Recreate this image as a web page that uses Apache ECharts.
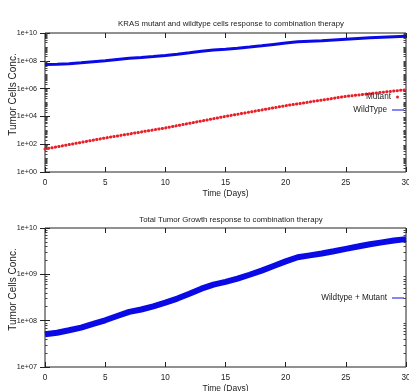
<!DOCTYPE html>
<html><head><meta charset="utf-8">
<script src="https://cdn.jsdelivr.net/npm/echarts@6/dist/echarts.min.js"></script>
<style>html,body{margin:0;padding:0;background:#fff}#c{width:409px;height:391px}</style>
</head><body><div id="c"></div>
<script>
const days = [0,1,2,3,4,5,6,7,8,9,10,11,12,13,14,15,16,17,18,19,20,21,22,23,24,25,26,27,28,29,30];
const wildtypeCells = [5.5e7,5.6e7,6.2e7,7.1e7,8.5e7,1.02e8,1.26e8,1.55e8,1.74e8,2.04e8,2.45e8,3.0e8,3.8e8,4.9e8,6.0e8,6.9e8,8.1e8,9.8e8,1.2e9,1.51e9,1.9e9,2.34e9,2.57e9,2.82e9,3.16e9,3.55e9,3.98e9,4.47e9,4.9e9,5.37e9,5.75e9];
const mutantDays = [0,5,10,15,20,25,28,30];
const mutantCells = [45,280,1480,1.0e4,5.9e4,2.75e5,5.4e5,8.3e5];
const totalCells = [5.1e7,5.5e7,6.2e7,7.1e7,8.5e7,1.02e8,1.26e8,1.55e8,1.74e8,2.04e8,2.45e8,3.0e8,3.8e8,4.9e8,6.0e8,6.9e8,8.1e8,9.8e8,1.2e9,1.51e9,1.9e9,2.34e9,2.57e9,2.82e9,3.16e9,3.55e9,3.98e9,4.47e9,4.9e9,5.37e9,5.75e9];
const xTicks = [0,5,10,15,20,25,30];
const topYTicks = [1,1e2,1e4,1e6,1e8,1e10];
const topYTickLabels = ['1e+00','1e+02','1e+04','1e+06','1e+08','1e+10'];
const botYTicks = [1e7,1e8,1e9,1e10];
const botYTickLabels = ['1e+07','1e+08','1e+09','1e+10'];

function minorTicks(k0, k1) {
  const out = [];
  for (let k = k0; k < k1; k++) {
    for (let m = 2; m <= 9; m++) out.push(m * Math.pow(10, k));
    if (k !== k0) out.push(Math.pow(10, k));
  }
  return out;
}
const topMinor = minorTicks(0, 10).filter(v => topYTicks.indexOf(v) < 0);
const botMinor = minorTicks(7, 10).filter(v => botYTicks.indexOf(v) < 0);

const FONT = '"Liberation Sans", Arial, sans-serif';
const FS = 8.2;
const BLUE = '#0a0ae6';
const RED = '#e8202a';

function labelFor(ticks, labels) {
  return function (v) {
    for (let i = 0; i < ticks.length; i++) {
      if (Math.abs(Math.log10(v) - Math.log10(ticks[i])) < 1e-6) return labels[i];
    }
    return '';
  };
}

function yAxes(gridIndex, min, max, majors, minors, labels, withName) {
  const base = {
    type: 'log', logBase: 10, gridIndex, min, max,
    axisLine: {show: false}, splitLine: {show: false}
  };
  return [
    Object.assign({}, base, {
      position: 'left',
      name: withName ? 'Tumor Cells Conc.' : '',
      nameLocation: 'middle', nameGap: 27, nameRotate: 90, nameMoveOverlap: false,
      nameTextStyle: {fontFamily: FONT, fontSize: 10, color: '#222', padding: [0, 0, 0, 16]},
      axisTick: {show: true, inside: true, length: 5, customValues: majors, lineStyle: {color: '#222'}},
      axisLabel: {show: true, margin: 8, customValues: majors, formatter: labelFor(majors, labels), fontFamily: FONT, fontSize: 7.2, color: '#222'}
    }),
    Object.assign({}, base, {
      position: 'right',
      axisTick: {show: true, inside: true, length: 5, customValues: majors, lineStyle: {color: '#222'}},
      axisLabel: {show: false}
    }),
    Object.assign({}, base, {
      position: 'left',
      axisTick: {show: true, inside: true, length: 2.5, customValues: minors, lineStyle: {color: '#444'}},
      axisLabel: {show: false}
    }),
    Object.assign({}, base, {
      position: 'right',
      axisTick: {show: true, inside: true, length: 2.5, customValues: minors, lineStyle: {color: '#444'}},
      axisLabel: {show: false}
    })
  ];
}

function xAxes(gridIndex) {
  const base = {type: 'value', gridIndex, min: 0, max: 30, interval: 5, axisLine: {show: false}, splitLine: {show: false}};
  return [
    Object.assign({}, base, {
      position: 'bottom',
      name: 'Time (Days)', nameLocation: 'middle', nameGap: 17, nameMoveOverlap: false,
      nameTextStyle: {fontFamily: FONT, fontSize: FS + 0.3, color: '#222'},
      axisTick: {show: true, inside: true, length: 5, lineStyle: {color: '#222'}},
      axisLabel: {show: true, margin: 7, fontFamily: FONT, fontSize: FS, color: '#222', formatter: v => xTicks.indexOf(v) >= 0 ? String(v) : ''}
    }),
    Object.assign({}, base, {
      position: 'top',
      axisTick: {show: true, inside: true, length: 5, lineStyle: {color: '#222'}},
      axisLabel: {show: false}
    })
  ];
}

const chart = echarts.init(document.getElementById('c'), null, {renderer: 'canvas'});
chart.setOption({
  animation: false,
  backgroundColor: '#fff',
  textStyle: {fontFamily: FONT},
  title: [
    {text: 'KRAS mutant and wildtype cells response to combination therapy', left: 226, top: 15, textAlign: 'center',
     textStyle: {fontFamily: FONT, fontSize: 7.8, fontWeight: 'normal', color: '#222'}},
    {text: 'Total Tumor Growth response to combination therapy', left: 226, top: 211, textAlign: 'center',
     textStyle: {fontFamily: FONT, fontSize: 7.8, fontWeight: 'normal', color: '#222'}}
  ],
  legend: [
    {data: ['Mutant'], right: 10, top: 93, orient: 'vertical', align: 'right', padding: 0, icon: 'circle', itemWidth: 3, itemHeight: 3,
     itemStyle: {borderWidth: 0}, textStyle: {fontFamily: FONT, fontSize: FS, color: '#222'}},
    {data: ['WildType'], right: 5, top: 106, orient: 'vertical', align: 'right', padding: 0, icon: 'rect', itemWidth: 12, itemHeight: 1,
     itemStyle: {borderWidth: 0}, textStyle: {fontFamily: FONT, fontSize: FS, color: '#222'}},
    {data: ['Wildtype + Mutant'], right: 5, top: 294, orient: 'vertical', align: 'right', padding: 0, icon: 'rect', itemWidth: 12, itemHeight: 1,
     itemStyle: {borderWidth: 0}, textStyle: {fontFamily: FONT, fontSize: FS, color: '#222'}}
  ],
  grid: [
    {left: 45, right: 3, top: 33, height: 139, outerBoundsMode: 'none', containLabel: false, show: true, borderColor: '#222', borderWidth: 1, backgroundColor: 'transparent'},
    {left: 45, right: 3, top: 228, height: 139, outerBoundsMode: 'none', containLabel: false, show: true, borderColor: '#222', borderWidth: 1, backgroundColor: 'transparent'}
  ],
  xAxis: xAxes(0).concat(xAxes(1)),
  yAxis: yAxes(0, 1, 1e10, topYTicks, topMinor, topYTickLabels, true)
    .concat(yAxes(1, 1e7, 1e10, botYTicks, botMinor, botYTickLabels, true)),
  series: [
    {name: 'Mutant', type: 'line', xAxisIndex: 0, yAxisIndex: 0, showSymbol: false,
     data: mutantDays.map((d, i) => [d, mutantCells[i]]),
     itemStyle: {color: RED},
     lineStyle: {color: RED, width: 3, type: [0.3, 3.2], cap: 'round'}},
    {name: 'WildType', type: 'line', xAxisIndex: 0, yAxisIndex: 0, showSymbol: false,
     data: days.map((d, i) => [d, wildtypeCells[i]]),
     itemStyle: {color: BLUE},
     lineStyle: {color: BLUE, width: 3}},
    {name: 'Wildtype + Mutant', type: 'line', xAxisIndex: 2, yAxisIndex: 4, showSymbol: false,
     data: days.map((d, i) => [d, totalCells[i]]),
     itemStyle: {color: BLUE},
     lineStyle: {color: BLUE, width: 6}}
  ]
});
</script></body></html>
